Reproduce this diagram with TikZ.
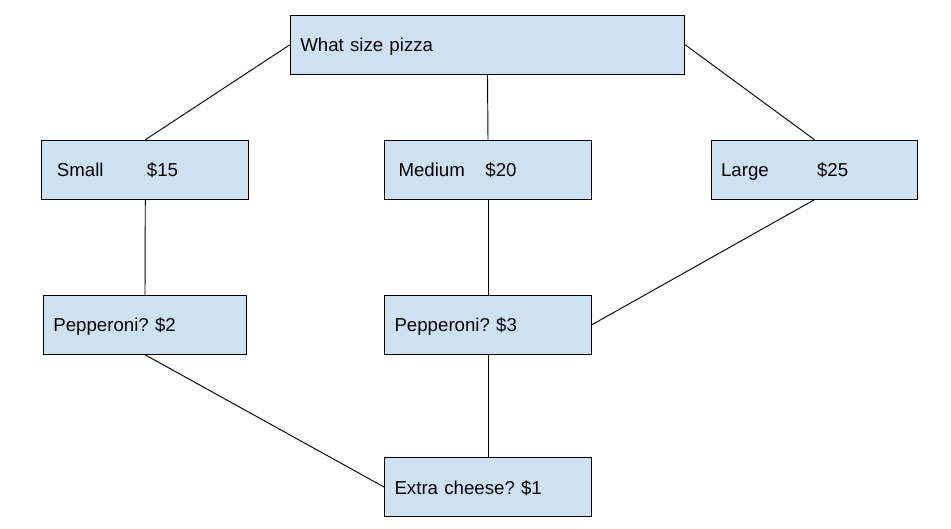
\documentclass[tikz,border=0pt]{standalone}
\usepackage{fontspec}
\setmainfont{Liberation Sans}
\frenchspacing
\definecolor{boxfill}{HTML}{CFE2F3}
\tikzset{
  px/.style={x=0.75pt,y=-0.75pt},
  box/.style={draw=black,fill=boxfill,line width=0.75pt,rectangle,minimum height=44.2pt,
    inner xsep=7.5pt,inner ysep=0pt,align=left,text height=12pt,text depth=1.5pt,
    font=\fontsize{14pt}{16.8pt}\selectfont},
  conn/.style={draw=black,line width=0.7pt},
}
\begin{document}
\begin{tikzpicture}[px]
\useasboundingbox (0,0) rectangle (951,529);
\node[box,text width=280.8pt] (top) at (487.5,44.8) {What size pizza};
\node[box,text width=140.2pt] (small) at (145.3,169.7) {\hspace*{3.8pt}\makebox[67.5pt][l]{Small}\$15};
\node[box,text width=140.2pt] (medium) at (488,169.7) {\hspace*{3pt}\makebox[65.2pt][l]{Medium}\$20};
\node[box,text width=140.2pt] (large) at (814.5,169.7) {\makebox[72pt][l]{Large}\$25};
\node[box,text width=137.5pt] (pep2) at (145,324.8) {Pepperoni? \$2};
\node[box,text width=140.2pt] (pep3) at (488,324.7) {Pepperoni? \$3};
\node[box,text width=140.2pt] (extra) at (488,487) {Extra cheese? \$1};
\draw[conn] (top.west) -- (small.north);
\draw[conn] (top.south) -- (medium.north);
\draw[conn] (top.east) -- (large.north);
\draw[conn] (small.south) -- (pep2.north);
\draw[conn] (medium.south) -- (pep3.north);
\draw[conn] (large.south) -- (pep3.east);
\draw[conn] (pep2.south) -- (extra.west);
\draw[conn] (pep3.south) -- (extra.north);
\end{tikzpicture}
\end{document}
